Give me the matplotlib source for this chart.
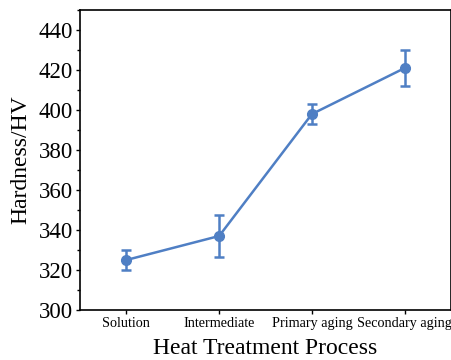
import matplotlib
matplotlib.use("Agg")
import matplotlib.pyplot as plt
from matplotlib.ticker import MultipleLocator

plt.rcParams['font.family'] = ['Liberation Serif', 'DejaVu Serif']

stages = ["Solution", "Intermediate", "Primary aging", "Secondary aging"]
hardness = [325, 337, 398, 421]
hardness_err = [5, 10.5, 5, 9]

color = "#4f7fc4"

fig = plt.figure(figsize=(4.52, 3.60), dpi=100)
ax = fig.add_axes([0.177, 0.139, 0.821, 0.833])

x = list(range(len(stages)))
ax.errorbar(x, hardness, yerr=hardness_err, color=color, lw=1.8,
            marker="o", ms=7, mfc=color, mec=color,
            elinewidth=1.8, capsize=3.5, capthick=1.8)
# small highlight on each marker
ax.plot(x, hardness, ls="none", marker="o", ms=3, mfc="#a9c1e6", mec="none")

ax.set_xlim(-0.5, 3.5)
ax.set_ylim(300, 450)
ax.set_xticks(x)
ax.set_xticklabels(stages, fontsize=10.2)
ax.yaxis.set_major_locator(MultipleLocator(20))
ax.yaxis.set_minor_locator(MultipleLocator(10))
ax.tick_params(axis="y", labelsize=16.5, direction="out", length=3, width=1, pad=2)
ax.tick_params(axis="y", which="minor", direction="out", length=2, width=1)
ax.tick_params(axis="x", direction="out", length=3, width=1, pad=2)

for s in ax.spines.values():
    s.set_linewidth(1.2)

ax.set_xlabel("Heat Treatment Process", fontsize=17, labelpad=6)
ax.set_ylabel("Hardness/HV", fontsize=17, labelpad=5)

fig.savefig("out.png", dpi=100)
